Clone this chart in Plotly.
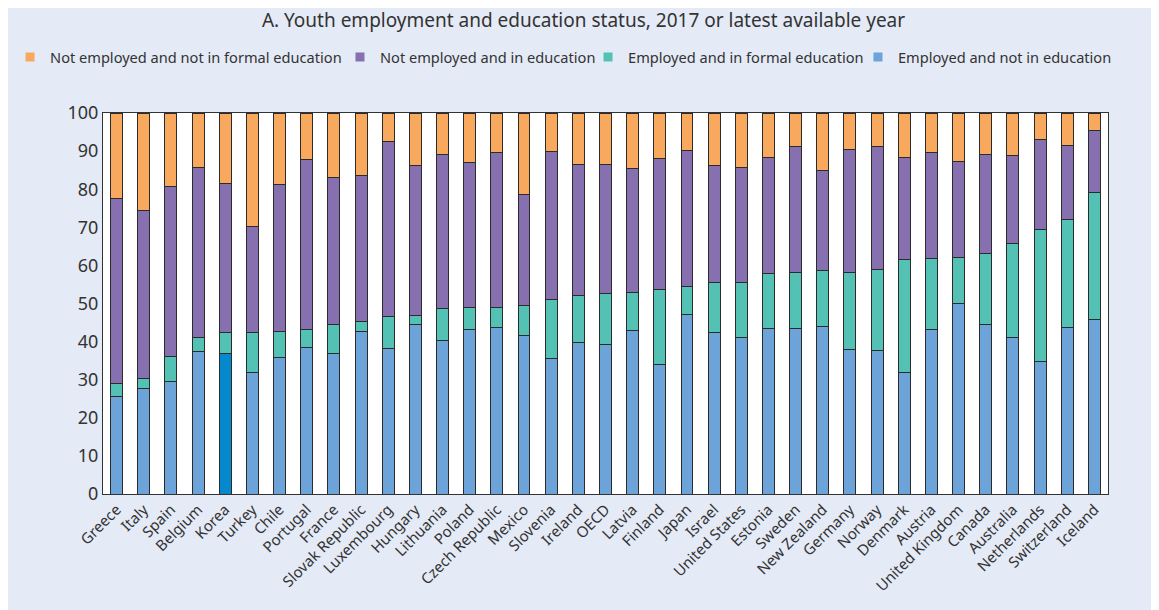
import plotly.graph_objects as go

countries = ["Greece", "Italy", "Spain", "Belgium", "Korea", "Turkey", "Chile", "Portugal", "France",
             "Slovak Republic", "Luxembourg", "Hungary", "Lithuania", "Poland", "Czech Republic", "Mexico",
             "Slovenia", "Ireland", "OECD", "Latvia", "Finland", "Japan", "Israel", "United States",
             "Estonia", "Sweden", "New Zealand", "Germany", "Norway", "Denmark", "Austria",
             "United Kingdom", "Canada", "Australia", "Netherlands", "Switzerland", "Iceland"]

employed_not_edu = [25.7, 27.8, 29.5, 37.3, 37.0, 32.0, 35.7, 38.4, 36.8,
                    42.7, 38.1, 44.6, 40.2, 43.1, 43.8, 41.6,
                    35.5, 39.8, 39.3, 43.0, 33.9, 47.1, 42.5, 41.0,
                    43.4, 43.4, 44.0, 37.8, 37.7, 32.0, 43.1,
                    50.0, 44.6, 41.1, 34.9, 43.8, 45.7]
employed_in_edu = [3.4, 2.4, 6.7, 3.7, 5.4, 10.5, 7.0, 4.9, 7.8,
                   2.5, 8.6, 2.2, 8.6, 5.8, 5.2, 8.0,
                   15.6, 12.3, 13.2, 9.9, 19.7, 7.3, 12.9, 14.4,
                   14.4, 14.7, 14.7, 20.3, 21.2, 29.6, 18.8,
                   12.0, 18.4, 24.7, 34.5, 28.2, 33.5]
not_employed_in_edu = [48.4, 44.3, 44.6, 44.8, 39.0, 27.6, 38.6, 44.4, 38.6,
                       38.5, 45.7, 39.4, 40.3, 38.0, 40.7, 28.9,
                       38.7, 34.4, 33.9, 32.5, 34.4, 35.7, 30.9, 30.4,
                       30.4, 33.2, 26.1, 32.4, 32.4, 26.8, 27.8,
                       25.3, 26.1, 23.1, 23.7, 19.4, 16.1]
not_employed_not_edu = [22.5, 25.5, 19.2, 14.2, 18.6, 29.9, 18.7, 12.3, 16.8,
                        16.3, 7.6, 13.8, 10.9, 13.1, 10.3, 21.5,
                        10.2, 13.5, 13.6, 14.6, 12.0, 9.9, 13.7, 14.2,
                        11.8, 8.7, 15.2, 9.5, 8.7, 11.6, 10.3,
                        12.7, 10.9, 11.1, 6.9, 8.6, 4.7]

series_names = ["Employed and not in education", "Employed and in formal education",
                "Not employed and in education", "Not employed and not in formal education"]
series_values = [employed_not_edu, employed_in_edu, not_employed_in_edu, not_employed_not_edu]
series_colors = ["#6CA3D9", "#53C1B3", "#8770B0", "#F9A95E"]
highlight = "Korea"
highlight_color = "#0689CC"

FONT = "Noto Sans"
fig = go.Figure()

for name, vals, col in zip(series_names, series_values, series_colors):
    if name == series_names[0]:
        colors = [highlight_color if c == highlight else col for c in countries]
    else:
        colors = col
    fig.add_trace(go.Bar(
        x=countries, y=vals, name=name, showlegend=False,
        marker=dict(color=colors, line=dict(color="#2b2b2b", width=1)),
    ))

# legend entries (each in its own legend so they sit on one line)
legend_ids = ["legend4", "legend3", "legend2", "legend"]
legend_x = [0.7512, 0.4826, 0.2358, -0.0925]
for name, col, lid in zip(series_names, series_colors, legend_ids):
    fig.add_trace(go.Scatter(
        x=[None], y=[None], mode="markers", name=name, legend=lid,
        marker=dict(symbol="square", size=9, color=col),
    ))

legend_common = dict(orientation="h", xanchor="left", y=1.147, yanchor="middle",
                     bgcolor="rgba(0,0,0,0)", itemwidth=30,
                     font=dict(family=FONT, size=14.6, color="#333333"))

fig.update_layout(
    barmode="stack",
    bargap=0.56,
    width=1151, height=602,
    paper_bgcolor="#E4EAF6",
    plot_bgcolor="white",
    margin=dict(l=95, r=51, t=105, b=116, autoexpand=False),
    font=dict(family=FONT, color="#333333"),
    title=dict(text="A. Youth employment and education status, 2017 or latest available year",
               x=0.5, xanchor="center", y=0.98, yanchor="middle",
               font=dict(family=FONT, size=19, color="#333333")),
    legend=dict(x=legend_x[3], **legend_common),
    legend2=dict(x=legend_x[2], **legend_common),
    legend3=dict(x=legend_x[1], **legend_common),
    legend4=dict(x=legend_x[0], **legend_common),
    hovermode=False,
)
fig.update_yaxes(range=[0, 100], dtick=10, showgrid=False, zeroline=False,
                 showline=True, linecolor="#333333", linewidth=1, mirror=True,
                 ticks="", tickfont=dict(family=FONT, size=18, color="#333333"))
fig.update_xaxes(showgrid=False, showline=True, linecolor="#333333", linewidth=1, mirror=True,
                 ticks="", tickangle=-45, tickfont=dict(family=FONT, size=15, color="#333333"))

fig.write_html("out.html")
